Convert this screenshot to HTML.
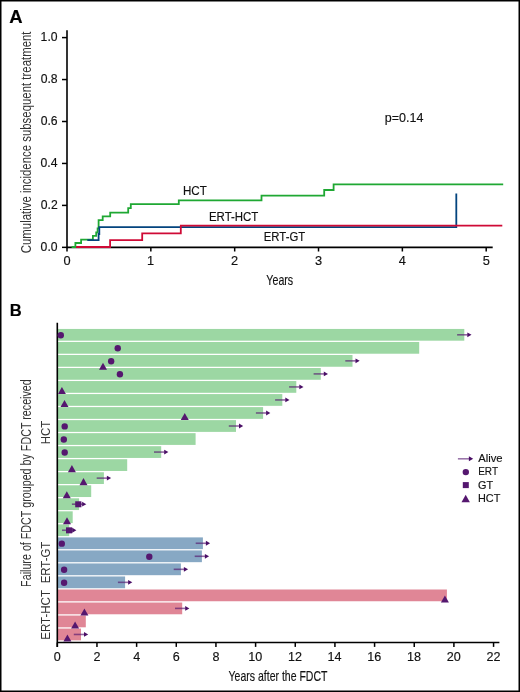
<!DOCTYPE html>
<html><head><meta charset="utf-8"><style>
html,body{margin:0;padding:0;background:#fff;}
body{width:520px;height:692px;overflow:hidden;}
svg{display:block;font-family:"Liberation Sans", sans-serif;will-change:transform;}
</style></head><body>
<svg width="520" height="692" viewBox="0 0 520 692">
<rect x="0" y="0" width="520" height="692" fill="#fff"/>
<text x="9.34" y="22.6" font-size="17.6" font-weight="bold" fill="#000" stroke="#000" stroke-width="0.15" textLength="13.35" lengthAdjust="spacingAndGlyphs">A</text>
<line x1="67.0" y1="30.2" x2="67.0" y2="248.15" stroke="#000" stroke-width="1.6"/>
<line x1="62" y1="247.35" x2="67.0" y2="247.35" stroke="#000" stroke-width="1.5"/>
<text x="40.62" y="251.05" font-size="12.2" font-weight="normal" fill="#111111" stroke="#111111" stroke-width="0.15" textLength="16.96" lengthAdjust="spacingAndGlyphs">0.0</text>
<line x1="62" y1="205.40" x2="67.0" y2="205.40" stroke="#000" stroke-width="1.5"/>
<text x="40.75" y="209.1" font-size="12.2" font-weight="normal" fill="#111111" stroke="#111111" stroke-width="0.15" textLength="16.96" lengthAdjust="spacingAndGlyphs">0.2</text>
<line x1="62" y1="163.45" x2="67.0" y2="163.45" stroke="#000" stroke-width="1.5"/>
<text x="40.5" y="167.15" font-size="12.2" font-weight="normal" fill="#111111" stroke="#111111" stroke-width="0.15" textLength="16.96" lengthAdjust="spacingAndGlyphs">0.4</text>
<line x1="62" y1="121.50" x2="67.0" y2="121.50" stroke="#000" stroke-width="1.5"/>
<text x="40.68" y="125.2" font-size="12.2" font-weight="normal" fill="#111111" stroke="#111111" stroke-width="0.15" textLength="16.96" lengthAdjust="spacingAndGlyphs">0.6</text>
<line x1="62" y1="79.55" x2="67.0" y2="79.55" stroke="#000" stroke-width="1.5"/>
<text x="40.67" y="83.25" font-size="12.2" font-weight="normal" fill="#111111" stroke="#111111" stroke-width="0.15" textLength="16.96" lengthAdjust="spacingAndGlyphs">0.8</text>
<line x1="62" y1="37.60" x2="67.0" y2="37.60" stroke="#000" stroke-width="1.5"/>
<text x="40.62" y="41.3" font-size="12.2" font-weight="normal" fill="#111111" stroke="#111111" stroke-width="0.15" textLength="16.96" lengthAdjust="spacingAndGlyphs">1.0</text>
<line x1="67.0" y1="247.35" x2="492.7" y2="247.35" stroke="#000" stroke-width="1.6"/>
<line x1="67.00" y1="247.35" x2="67.00" y2="251.5" stroke="#000" stroke-width="1.5"/>
<text x="63.44" y="265.2" font-size="12.2" font-weight="normal" fill="#111111" stroke="#111111" stroke-width="0.15" textLength="7.12" lengthAdjust="spacingAndGlyphs">0</text>
<line x1="150.84" y1="247.35" x2="150.84" y2="251.5" stroke="#000" stroke-width="1.5"/>
<text x="147.1" y="265.2" font-size="12.2" font-weight="normal" fill="#111111" stroke="#111111" stroke-width="0.15" textLength="7.12" lengthAdjust="spacingAndGlyphs">1</text>
<line x1="234.68" y1="247.35" x2="234.68" y2="251.5" stroke="#000" stroke-width="1.5"/>
<text x="231.12" y="265.2" font-size="12.2" font-weight="normal" fill="#111111" stroke="#111111" stroke-width="0.15" textLength="7.12" lengthAdjust="spacingAndGlyphs">2</text>
<line x1="318.52" y1="247.35" x2="318.52" y2="251.5" stroke="#000" stroke-width="1.5"/>
<text x="315.0" y="265.2" font-size="12.2" font-weight="normal" fill="#111111" stroke="#111111" stroke-width="0.15" textLength="7.12" lengthAdjust="spacingAndGlyphs">3</text>
<line x1="402.36" y1="247.35" x2="402.36" y2="251.5" stroke="#000" stroke-width="1.5"/>
<text x="398.84" y="265.2" font-size="12.2" font-weight="normal" fill="#111111" stroke="#111111" stroke-width="0.15" textLength="7.12" lengthAdjust="spacingAndGlyphs">4</text>
<line x1="486.20" y1="247.35" x2="486.20" y2="251.5" stroke="#000" stroke-width="1.5"/>
<text x="482.65" y="265.2" font-size="12.2" font-weight="normal" fill="#111111" stroke="#111111" stroke-width="0.15" textLength="7.12" lengthAdjust="spacingAndGlyphs">5</text>
<text x="266.37" y="284.9" font-size="14.6" font-weight="normal" fill="#111111" stroke="#111111" stroke-width="0.15" textLength="26.8" lengthAdjust="spacingAndGlyphs">Years</text>
<text transform="translate(31.4,252.7) rotate(-90)" x="-0.58" y="0" font-size="14.4" font-weight="normal" fill="#333333" textLength="221.76" lengthAdjust="spacingAndGlyphs">Cumulative incidence subsequent treatment</text>
<text x="384.79" y="121.5" font-size="12.3" font-weight="normal" fill="#111111" stroke="#111111" stroke-width="0.15" textLength="38.57" lengthAdjust="spacingAndGlyphs">p=0.14</text>
<text x="182.95" y="195.2" font-size="12.0" font-weight="normal" fill="#111111" stroke="#111111" stroke-width="0.15" textLength="23.82" lengthAdjust="spacingAndGlyphs">HCT</text>
<text x="208.98" y="220.7" font-size="12.0" font-weight="normal" fill="#111111" stroke="#111111" stroke-width="0.15" textLength="49.38" lengthAdjust="spacingAndGlyphs">ERT-HCT</text>
<text x="263.79" y="240.8" font-size="12.0" font-weight="normal" fill="#111111" stroke="#111111" stroke-width="0.15" textLength="41.37" lengthAdjust="spacingAndGlyphs">ERT-GT</text>
<path d="M72.5,247 H75.4 V243 H81.1 V239.6 H92.9 V235.8 H96.2 V232.4 H97.6 V228.4 H98.6 V220.2 H102.7 V216.3 H110.2 V212.6 H128.2 V208.1 H130.8 V204.2 H178.8 V200.4 H261.5 V195.6 H324.2 V190 H333.6 V184.3 H502.3" fill="none" stroke="#1fa833" stroke-width="1.8" stroke-linejoin="miter" stroke-linecap="square"/>
<path d="M88.2,240.1 H98.6 V234 H99.3 V227.2 H456.3 V194.4" fill="none" stroke="#03447e" stroke-width="1.8" stroke-linecap="square"/>
<path d="M76.1,247 H110.1 V240.2 H142.2 V233.4 H180.8 V225.7 H502.3" fill="none" stroke="#cf0a36" stroke-width="1.8" stroke-linecap="butt"/>
<text x="9.69" y="315.9" font-size="17.4" font-weight="bold" fill="#000" stroke="#000" stroke-width="0.15" textLength="11.96" lengthAdjust="spacingAndGlyphs">B</text>
<rect x="57.3" y="328.94" width="407.00" height="11.75" fill="#9cd7a3"/>
<rect x="57.3" y="341.97" width="361.90" height="11.75" fill="#9cd7a3"/>
<rect x="57.3" y="355.00" width="295.20" height="11.75" fill="#9cd7a3"/>
<rect x="57.3" y="368.02" width="263.50" height="11.75" fill="#9cd7a3"/>
<rect x="57.3" y="381.05" width="239.00" height="11.75" fill="#9cd7a3"/>
<rect x="57.3" y="394.08" width="225.00" height="11.75" fill="#9cd7a3"/>
<rect x="57.3" y="407.11" width="205.80" height="11.75" fill="#9cd7a3"/>
<rect x="57.3" y="420.14" width="178.70" height="11.75" fill="#9cd7a3"/>
<rect x="57.3" y="433.16" width="138.30" height="11.75" fill="#9cd7a3"/>
<rect x="57.3" y="446.19" width="103.90" height="11.75" fill="#9cd7a3"/>
<rect x="57.3" y="459.22" width="69.90" height="11.75" fill="#9cd7a3"/>
<rect x="57.3" y="472.25" width="46.60" height="11.75" fill="#9cd7a3"/>
<rect x="57.3" y="485.28" width="33.90" height="11.75" fill="#9cd7a3"/>
<rect x="57.3" y="498.30" width="21.80" height="11.75" fill="#9cd7a3"/>
<rect x="57.3" y="511.33" width="15.40" height="11.75" fill="#9cd7a3"/>
<rect x="57.3" y="524.36" width="11.90" height="11.75" fill="#9cd7a3"/>
<rect x="57.3" y="537.39" width="145.60" height="11.75" fill="#87a8c4"/>
<rect x="57.3" y="550.42" width="144.60" height="11.75" fill="#87a8c4"/>
<rect x="57.3" y="563.44" width="123.60" height="11.75" fill="#87a8c4"/>
<rect x="57.3" y="576.47" width="67.80" height="11.75" fill="#87a8c4"/>
<rect x="57.3" y="589.50" width="389.60" height="11.75" fill="#e08696"/>
<rect x="57.3" y="602.53" width="124.90" height="11.75" fill="#e08696"/>
<rect x="57.3" y="615.56" width="28.50" height="11.75" fill="#e08696"/>
<rect x="57.3" y="628.58" width="23.70" height="11.75" fill="#e08696"/>
<line x1="57.3" y1="322.7" x2="57.3" y2="646.9" stroke="#000" stroke-width="1.6"/>
<line x1="57.3" y1="642.5" x2="499.4" y2="642.5" stroke="#000" stroke-width="1.6"/>
<circle cx="60.8" cy="335.21" r="3.2" fill="#55176f"/>
<line x1="457.10" y1="334.81" x2="467.70" y2="334.81" stroke="#55176f" stroke-width="1.6" stroke-opacity="0.65"/>
<path d="M467.30,332.42 L471.50,334.81 L467.30,337.21 Z" fill="#4a0e66"/>
<circle cx="117.75" cy="348.24" r="3.2" fill="#55176f"/>
<circle cx="111.15" cy="361.27" r="3.2" fill="#55176f"/>
<path d="M103.00,362.77 L107.00,369.87 L99.00,369.87 Z" fill="#55176f"/>
<line x1="345.30" y1="360.87" x2="355.90" y2="360.87" stroke="#55176f" stroke-width="1.6" stroke-opacity="0.65"/>
<path d="M355.50,358.47 L359.70,360.87 L355.50,363.27 Z" fill="#4a0e66"/>
<circle cx="119.9" cy="374.30" r="3.2" fill="#55176f"/>
<line x1="313.60" y1="373.90" x2="324.20" y2="373.90" stroke="#55176f" stroke-width="1.6" stroke-opacity="0.65"/>
<path d="M323.80,371.50 L328.00,373.90 L323.80,376.30 Z" fill="#4a0e66"/>
<path d="M61.90,386.93 L65.90,394.03 L57.90,394.03 Z" fill="#55176f"/>
<line x1="289.10" y1="386.93" x2="299.70" y2="386.93" stroke="#55176f" stroke-width="1.6" stroke-opacity="0.65"/>
<path d="M299.30,384.53 L303.50,386.93 L299.30,389.33 Z" fill="#4a0e66"/>
<path d="M64.50,399.95 L68.50,407.06 L60.50,407.06 Z" fill="#55176f"/>
<line x1="275.10" y1="399.95" x2="285.70" y2="399.95" stroke="#55176f" stroke-width="1.6" stroke-opacity="0.65"/>
<path d="M285.30,397.56 L289.50,399.95 L285.30,402.35 Z" fill="#4a0e66"/>
<path d="M184.75,412.98 L188.75,420.08 L180.75,420.08 Z" fill="#55176f"/>
<line x1="255.90" y1="412.98" x2="266.50" y2="412.98" stroke="#55176f" stroke-width="1.6" stroke-opacity="0.65"/>
<path d="M266.10,410.58 L270.30,412.98 L266.10,415.38 Z" fill="#4a0e66"/>
<circle cx="64.7" cy="426.41" r="3.2" fill="#55176f"/>
<line x1="228.80" y1="426.01" x2="239.40" y2="426.01" stroke="#55176f" stroke-width="1.6" stroke-opacity="0.65"/>
<path d="M239.00,423.61 L243.20,426.01 L239.00,428.41 Z" fill="#4a0e66"/>
<circle cx="63.8" cy="439.44" r="3.2" fill="#55176f"/>
<circle cx="64.7" cy="452.47" r="3.2" fill="#55176f"/>
<line x1="154.00" y1="452.07" x2="164.60" y2="452.07" stroke="#55176f" stroke-width="1.6" stroke-opacity="0.65"/>
<path d="M164.20,449.67 L168.40,452.07 L164.20,454.47 Z" fill="#4a0e66"/>
<path d="M71.90,465.10 L75.90,472.20 L67.90,472.20 Z" fill="#55176f"/>
<path d="M83.50,478.12 L87.50,485.22 L79.50,485.22 Z" fill="#55176f"/>
<line x1="96.70" y1="478.12" x2="107.30" y2="478.12" stroke="#55176f" stroke-width="1.6" stroke-opacity="0.65"/>
<path d="M106.90,475.72 L111.10,478.12 L106.90,480.52 Z" fill="#4a0e66"/>
<path d="M66.80,491.15 L70.80,498.25 L62.80,498.25 Z" fill="#55176f"/>
<rect x="75.20" y="501.28" width="6.2" height="6.0" fill="#55176f"/>
<line x1="71.90" y1="504.18" x2="82.50" y2="504.18" stroke="#55176f" stroke-width="1.6" stroke-opacity="0.65"/>
<path d="M82.10,501.78 L86.30,504.18 L82.10,506.58 Z" fill="#4a0e66"/>
<path d="M67.00,517.21 L71.00,524.31 L63.00,524.31 Z" fill="#55176f"/>
<rect x="66.00" y="527.34" width="6.2" height="6.0" fill="#55176f"/>
<line x1="62.00" y1="530.24" x2="72.60" y2="530.24" stroke="#55176f" stroke-width="1.6" stroke-opacity="0.65"/>
<path d="M72.20,527.84 L76.40,530.24 L72.20,532.63 Z" fill="#4a0e66"/>
<circle cx="61.8" cy="543.66" r="3.2" fill="#55176f"/>
<line x1="195.70" y1="543.26" x2="206.30" y2="543.26" stroke="#55176f" stroke-width="1.6" stroke-opacity="0.65"/>
<path d="M205.90,540.86 L210.10,543.26 L205.90,545.66 Z" fill="#4a0e66"/>
<circle cx="149.3" cy="556.69" r="3.2" fill="#55176f"/>
<line x1="194.70" y1="556.29" x2="205.30" y2="556.29" stroke="#55176f" stroke-width="1.6" stroke-opacity="0.65"/>
<path d="M204.90,553.89 L209.10,556.29 L204.90,558.69 Z" fill="#4a0e66"/>
<circle cx="64.1" cy="569.72" r="3.2" fill="#55176f"/>
<line x1="173.70" y1="569.32" x2="184.30" y2="569.32" stroke="#55176f" stroke-width="1.6" stroke-opacity="0.65"/>
<path d="M183.90,566.92 L188.10,569.32 L183.90,571.72 Z" fill="#4a0e66"/>
<circle cx="64.1" cy="582.75" r="3.2" fill="#55176f"/>
<line x1="117.90" y1="582.35" x2="128.50" y2="582.35" stroke="#55176f" stroke-width="1.6" stroke-opacity="0.65"/>
<path d="M128.10,579.95 L132.30,582.35 L128.10,584.75 Z" fill="#4a0e66"/>
<path d="M444.90,595.38 L448.90,602.48 L440.90,602.48 Z" fill="#55176f"/>
<path d="M84.40,608.40 L88.40,615.50 L80.40,615.50 Z" fill="#55176f"/>
<line x1="175.00" y1="608.40" x2="185.60" y2="608.40" stroke="#55176f" stroke-width="1.6" stroke-opacity="0.65"/>
<path d="M185.20,606.00 L189.40,608.40 L185.20,610.80 Z" fill="#4a0e66"/>
<path d="M75.10,621.43 L79.10,628.53 L71.10,628.53 Z" fill="#55176f"/>
<path d="M67.40,634.46 L71.40,641.56 L63.40,641.56 Z" fill="#55176f"/>
<line x1="73.80" y1="634.46" x2="84.40" y2="634.46" stroke="#55176f" stroke-width="1.6" stroke-opacity="0.65"/>
<path d="M84.00,632.06 L88.20,634.46 L84.00,636.86 Z" fill="#4a0e66"/>
<line x1="57.30" y1="642.5" x2="57.30" y2="646.9" stroke="#000" stroke-width="1.5"/>
<text x="53.8" y="660.6" font-size="12.0" font-weight="normal" fill="#111111" stroke="#111111" stroke-width="0.15" textLength="7.01" lengthAdjust="spacingAndGlyphs">0</text>
<line x1="96.96" y1="642.5" x2="96.96" y2="646.9" stroke="#000" stroke-width="1.5"/>
<text x="93.46" y="660.6" font-size="12.0" font-weight="normal" fill="#111111" stroke="#111111" stroke-width="0.15" textLength="7.01" lengthAdjust="spacingAndGlyphs">2</text>
<line x1="136.62" y1="642.5" x2="136.62" y2="646.9" stroke="#000" stroke-width="1.5"/>
<text x="133.16" y="660.6" font-size="12.0" font-weight="normal" fill="#111111" stroke="#111111" stroke-width="0.15" textLength="7.01" lengthAdjust="spacingAndGlyphs">4</text>
<line x1="176.28" y1="642.5" x2="176.28" y2="646.9" stroke="#000" stroke-width="1.5"/>
<text x="172.73" y="660.6" font-size="12.0" font-weight="normal" fill="#111111" stroke="#111111" stroke-width="0.15" textLength="7.01" lengthAdjust="spacingAndGlyphs">6</text>
<line x1="215.94" y1="642.5" x2="215.94" y2="646.9" stroke="#000" stroke-width="1.5"/>
<text x="212.44" y="660.6" font-size="12.0" font-weight="normal" fill="#111111" stroke="#111111" stroke-width="0.15" textLength="7.01" lengthAdjust="spacingAndGlyphs">8</text>
<line x1="255.60" y1="642.5" x2="255.60" y2="646.9" stroke="#000" stroke-width="1.5"/>
<text x="248.36" y="660.6" font-size="12.0" font-weight="normal" fill="#111111" stroke="#111111" stroke-width="0.15" textLength="14.02" lengthAdjust="spacingAndGlyphs">10</text>
<line x1="295.26" y1="642.5" x2="295.26" y2="646.9" stroke="#000" stroke-width="1.5"/>
<text x="288.09" y="660.6" font-size="12.0" font-weight="normal" fill="#111111" stroke="#111111" stroke-width="0.15" textLength="14.02" lengthAdjust="spacingAndGlyphs">12</text>
<line x1="334.92" y1="642.5" x2="334.92" y2="646.9" stroke="#000" stroke-width="1.5"/>
<text x="327.62" y="660.6" font-size="12.0" font-weight="normal" fill="#111111" stroke="#111111" stroke-width="0.15" textLength="14.02" lengthAdjust="spacingAndGlyphs">14</text>
<line x1="374.58" y1="642.5" x2="374.58" y2="646.9" stroke="#000" stroke-width="1.5"/>
<text x="367.37" y="660.6" font-size="12.0" font-weight="normal" fill="#111111" stroke="#111111" stroke-width="0.15" textLength="14.02" lengthAdjust="spacingAndGlyphs">16</text>
<line x1="414.24" y1="642.5" x2="414.24" y2="646.9" stroke="#000" stroke-width="1.5"/>
<text x="407.03" y="660.6" font-size="12.0" font-weight="normal" fill="#111111" stroke="#111111" stroke-width="0.15" textLength="14.02" lengthAdjust="spacingAndGlyphs">18</text>
<line x1="453.90" y1="642.5" x2="453.90" y2="646.9" stroke="#000" stroke-width="1.5"/>
<text x="446.82" y="660.6" font-size="12.0" font-weight="normal" fill="#111111" stroke="#111111" stroke-width="0.15" textLength="14.02" lengthAdjust="spacingAndGlyphs">20</text>
<line x1="493.56" y1="642.5" x2="493.56" y2="646.9" stroke="#000" stroke-width="1.5"/>
<text x="486.55" y="660.6" font-size="12.0" font-weight="normal" fill="#111111" stroke="#111111" stroke-width="0.15" textLength="14.02" lengthAdjust="spacingAndGlyphs">22</text>
<text x="228.57" y="681.2" font-size="14.6" font-weight="normal" fill="#111111" stroke="#111111" stroke-width="0.15" textLength="98.87" lengthAdjust="spacingAndGlyphs">Years after the FDCT</text>
<text transform="translate(31.2,586.0) rotate(-90)" x="-0.88" y="0" font-size="14.3" font-weight="normal" fill="#333333" textLength="207.67" lengthAdjust="spacingAndGlyphs">Failure of FDCT grouped by FDCT received</text>
<text transform="translate(50.0,443.4) rotate(-90)" x="-0.94" y="0" font-size="12.2" font-weight="normal" fill="#333333" textLength="23.61" lengthAdjust="spacingAndGlyphs">HCT</text>
<text transform="translate(50.0,582.4) rotate(-90)" x="-0.92" y="0" font-size="12.2" font-weight="normal" fill="#333333" textLength="41.57" lengthAdjust="spacingAndGlyphs">ERT-GT</text>
<text transform="translate(50.2,638.8) rotate(-90)" x="-0.93" y="0" font-size="12.2" font-weight="normal" fill="#333333" textLength="49.69" lengthAdjust="spacingAndGlyphs">ERT-HCT</text>
<line x1="457.9" y1="458.8" x2="470" y2="458.8" stroke="#9a76aa" stroke-width="1.6"/>
<path d="M468.9,456.3 L473.2,458.8 L468.9,461.3 Z" fill="#4a0e66"/>
<circle cx="465.8" cy="472.1" r="3.2" fill="#55176f"/>
<rect x="462.8" y="482.1" width="6" height="6" fill="#55176f"/>
<path d="M465.7,494.8 L469.9,502.2 L461.5,502.2 Z" fill="#55176f"/>
<text x="478.18" y="461.8" font-size="11.4" font-weight="normal" fill="#111111" stroke="#111111" stroke-width="0.15" textLength="24.42" lengthAdjust="spacingAndGlyphs">Alive</text>
<text x="478.19" y="475.4" font-size="11.6" font-weight="normal" fill="#111111" stroke="#111111" stroke-width="0.15" textLength="19.84" lengthAdjust="spacingAndGlyphs">ERT</text>
<text x="478.05" y="488.8" font-size="11.6" font-weight="normal" fill="#111111" stroke="#111111" stroke-width="0.15" textLength="15.1" lengthAdjust="spacingAndGlyphs">GT</text>
<text x="478.01" y="501.8" font-size="11.4" font-weight="normal" fill="#111111" stroke="#111111" stroke-width="0.15" textLength="22.34" lengthAdjust="spacingAndGlyphs">HCT</text>
<rect x="0.75" y="0.75" width="518.5" height="690.5" fill="none" stroke="#000" stroke-width="1.5"/>
</svg>
</body></html>
